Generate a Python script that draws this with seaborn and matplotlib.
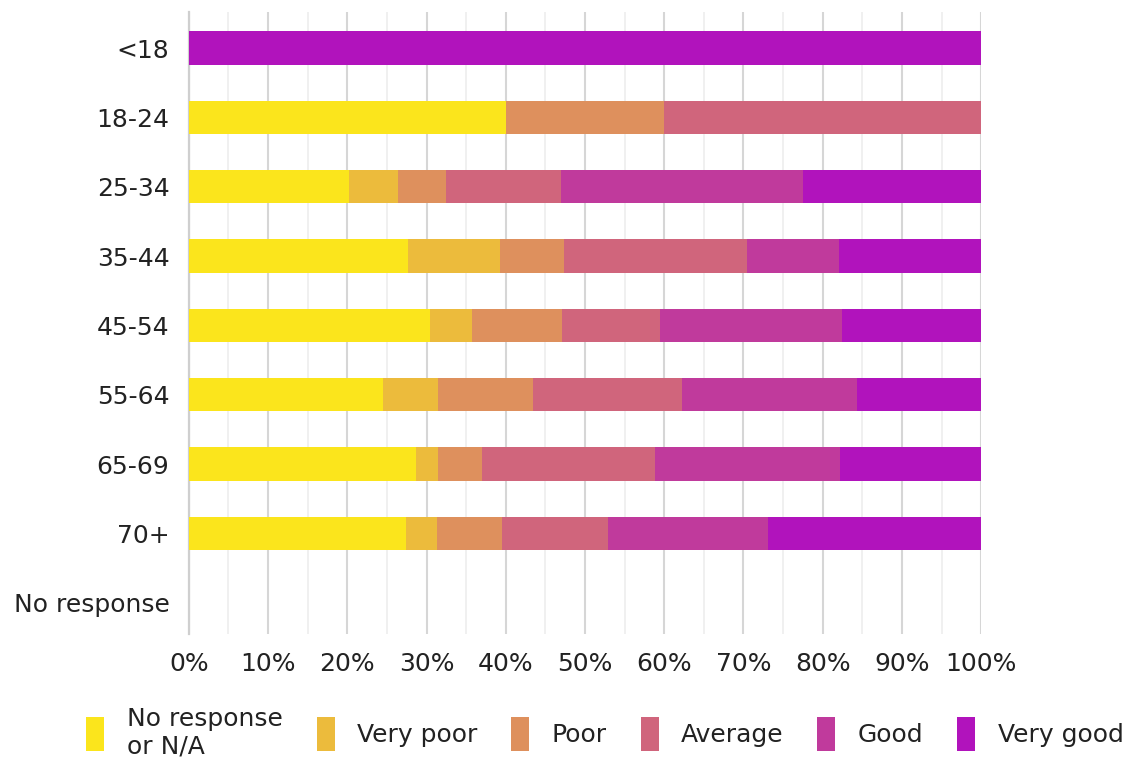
import numpy as np
import pandas as pd
import seaborn as sns
import matplotlib.pyplot as plt
from matplotlib.patches import Patch
from matplotlib.ticker import MultipleLocator, PercentFormatter

# Age groups, top to bottom
groups = ['<18', '18-24', '25-34', '35-44', '45-54', '55-64', '65-69', '70+', 'No response']
ratings = ['No response\nor N/A', 'Very poor', 'Poor', 'Average', 'Good', 'Very good']

# Share (%) of each rating per age group
no_response = [0, 40.0, 20.2, 27.7, 30.4, 24.5, 28.7, 27.4, 0]
very_poor   = [0, 0.0, 6.2, 11.6, 5.3, 7.0, 2.8, 3.9, 0]
poor        = [0, 20.0, 6.1, 8.1, 11.4, 11.9, 5.5, 8.2, 0]
average     = [0, 40.0, 14.5, 23.1, 12.4, 18.8, 21.8, 13.4, 0]
good        = [0, 0.0, 30.5, 11.5, 22.9, 22.1, 23.4, 20.2, 0]
very_good   = [100, 0.0, 22.5, 18.0, 17.6, 15.7, 17.8, 26.9, 0]

colors = ['#fbe51c', '#ecbb3c', '#de905d', '#d0657c', '#c03a9c', '#b113bc']

df = pd.DataFrame({'group': groups, 'No response\nor N/A': no_response, 'Very poor': very_poor,
                   'Poor': poor, 'Average': average, 'Good': good, 'Very good': very_good})
cum = df[ratings].cumsum(axis=1)

sns.set_style('white')
plt.rcParams['font.family'] = ['DejaVu Sans']

fig = plt.figure(figsize=(11.31, 7.58), dpi=100)
ax = fig.add_axes([0.167, 0.1636, 0.7005, 0.8206])

# Stacked bars: draw cumulative totals from the outermost segment inward
for i in reversed(range(len(ratings))):
    sns.barplot(x=cum[ratings[i]], y=df['group'], color=colors[i], orient='h',
                width=0.48, linewidth=0, saturation=1, ax=ax, zorder=3)

ax.set_xlim(0, 100)
ax.set_ylim(8.45, -0.52)
ax.xaxis.set_major_locator(MultipleLocator(10))
ax.xaxis.set_minor_locator(MultipleLocator(5))
ax.xaxis.set_major_formatter(PercentFormatter(decimals=0))
ax.grid(axis='x', which='major', color='#d6d6d6', linewidth=1.5, zorder=0)
ax.grid(axis='x', which='minor', color='#ededed', linewidth=1.2, zorder=0)
ax.set_axisbelow(True)
for s in ax.spines.values():
    s.set_visible(False)
ax.spines['left'].set_visible(True)
ax.spines['left'].set_color('#cfcfcf')
ax.spines['left'].set_linewidth(1.6)
ax.set_xlabel('')
ax.set_ylabel('')
ax.tick_params(axis='both', length=0, labelsize=18, colors='#222222')
ax.tick_params(axis='y', pad=14)
ax.tick_params(axis='x', pad=13)

handles = [Patch(facecolor=c, edgecolor='none') for c in colors]
fig.legend(handles, ratings, loc='center', bbox_to_anchor=(0.535, 0.033), ncol=6, frameon=False,
           fontsize=18, handlelength=0.72, handleheight=1.7, handletextpad=0.9, columnspacing=1.35,
           labelcolor='#222222')

fig.savefig('out.png', dpi=100)
